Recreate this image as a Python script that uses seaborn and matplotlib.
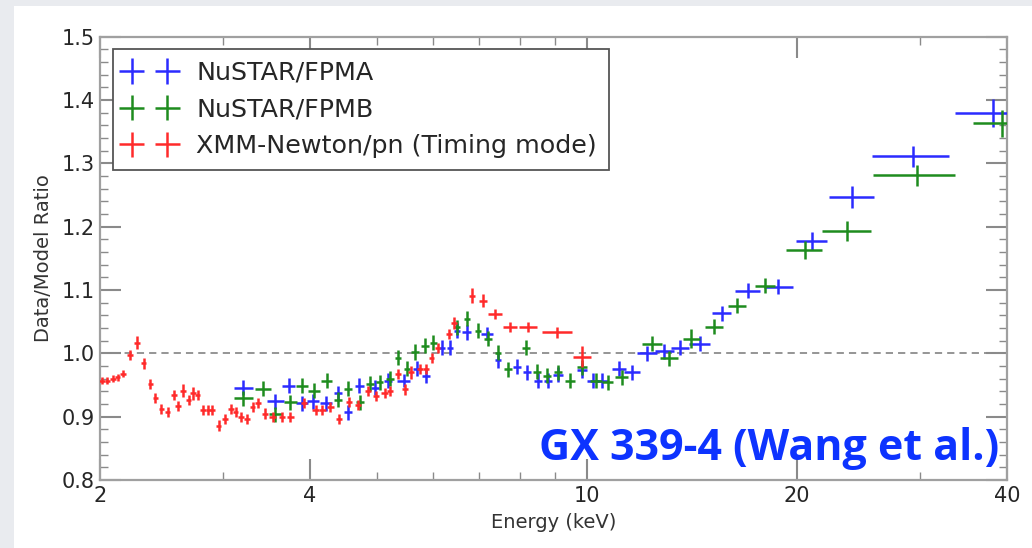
import numpy as np
import matplotlib
matplotlib.use("Agg")
import matplotlib.pyplot as plt
from matplotlib.patches import Rectangle
from matplotlib.ticker import FixedLocator, FixedFormatter, NullFormatter, MultipleLocator, FormatStrFormatter
import seaborn as sns

# ---------------- data ----------------
series_names = ["NuSTAR/FPMA", "NuSTAR/FPMB", "XMM-Newton/pn (Timing mode)"]

fpma_E = [3.21, 3.57, 3.73, 3.90, 4.04, 4.22, 4.39, 4.54, 4.71, 4.96,
          5.18, 5.45, 5.70, 5.87, 6.19, 6.36, 6.50, 6.72, 7.18, 7.45,
          7.93, 8.20, 8.50, 8.79, 9.08, 9.83, 10.2, 10.5, 11.1, 11.6,
          12.2, 12.9, 13.6, 14.5, 15.6, 17.0, 18.8, 21.0, 24.0, 29.3, 38.2]
fpma_R = [0.946, 0.924, 0.949, 0.921, 0.924, 0.921, 0.937, 0.907, 0.949, 0.946,
          0.957, 0.957, 0.976, 0.965, 1.009, 1.009, 1.036, 1.033, 1.031, 0.989,
          0.979, 0.970, 0.957, 0.957, 0.966, 0.973, 0.957, 0.957, 0.976, 0.970,
          1.000, 1.003, 1.009, 1.015, 1.063, 1.099, 1.105, 1.177, 1.247, 1.311, 1.380]
fpma_xerr = [0.10, 0.10, 0.08, 0.08, 0.08, 0.08, 0.06, 0.06, 0.07, 0.07,
             0.07, 0.12, 0.07, 0.07, 0.06, 0.06, 0.07, 0.10, 0.15, 0.07,
             0.10, 0.10, 0.12, 0.12, 0.15, 0.15, 0.20, 0.20, 0.25, 0.30,
             0.40, 0.40, 0.40, 0.50, 0.50, 0.70, 0.90, 1.10, 1.80, 3.70, 4.50]
fpma_yerr = [0.012, 0.012, 0.012, 0.012, 0.012, 0.012, 0.012, 0.012, 0.012, 0.012,
             0.012, 0.010, 0.012, 0.012, 0.012, 0.012, 0.012, 0.012, 0.010, 0.012,
             0.012, 0.012, 0.012, 0.012, 0.012, 0.012, 0.012, 0.012, 0.012, 0.012,
             0.012, 0.012, 0.012, 0.012, 0.012, 0.012, 0.012, 0.014, 0.017, 0.016, 0.022]

fpmb_E = [3.21, 3.43, 3.57, 3.75, 3.90, 4.06, 4.23, 4.39, 4.54, 4.72,
          4.88, 5.04, 5.21, 5.35, 5.51, 5.66, 5.85, 6.01, 6.50, 6.72,
          6.97, 7.21, 7.45, 7.70, 8.17, 8.47, 8.76, 9.08, 9.45, 9.83,
          10.3, 10.7, 11.2, 12.4, 13.1, 14.1, 15.2, 16.4, 18.0, 20.5,
          23.6, 29.7, 39.4]
fpmb_R = [0.929, 0.944, 0.904, 0.923, 0.949, 0.941, 0.957, 0.927, 0.944, 0.923,
          0.952, 0.954, 0.960, 0.993, 0.976, 1.002, 1.012, 1.017, 1.041, 1.055,
          1.036, 1.023, 1.001, 0.975, 1.009, 0.971, 0.965, 0.970, 0.957, 0.978,
          0.957, 0.954, 0.962, 1.015, 0.992, 1.023, 1.042, 1.075, 1.107, 1.163,
          1.193, 1.281, 1.363]
fpmb_xerr = [0.10, 0.09, 0.08, 0.08, 0.08, 0.08, 0.08, 0.06, 0.06, 0.06,
             0.06, 0.06, 0.07, 0.05, 0.06, 0.07, 0.07, 0.07, 0.07, 0.07,
             0.07, 0.10, 0.07, 0.10, 0.10, 0.12, 0.12, 0.12, 0.15, 0.15,
             0.20, 0.20, 0.25, 0.40, 0.40, 0.40, 0.45, 0.50, 0.60, 1.20,
             1.90, 4.00, 3.70]
fpmb_yerr = [0.012, 0.012, 0.012, 0.012, 0.012, 0.012, 0.012, 0.012, 0.012, 0.012,
             0.012, 0.012, 0.012, 0.012, 0.012, 0.012, 0.012, 0.012, 0.012, 0.012,
             0.012, 0.012, 0.012, 0.012, 0.012, 0.012, 0.012, 0.012, 0.012, 0.012,
             0.012, 0.012, 0.012, 0.012, 0.012, 0.015, 0.012, 0.012, 0.012, 0.014,
             0.016, 0.016, 0.021]

xmm_E = [2.01, 2.05, 2.09, 2.12, 2.16, 2.21, 2.26, 2.31, 2.36, 2.40,
         2.45, 2.50, 2.55, 2.59, 2.63, 2.68, 2.72, 2.76, 2.81, 2.86,
         2.90, 2.96, 3.02, 3.08, 3.13, 3.19, 3.25, 3.31, 3.37, 3.45,
         3.54, 3.65, 3.75, 3.92, 4.08, 4.17, 4.28, 4.41, 4.55, 4.69,
         4.85, 4.98, 5.12, 5.21, 5.35, 5.48, 5.59, 5.75, 5.87, 5.98,
         6.10, 6.33, 6.44, 6.84, 7.09, 7.37, 7.75, 8.23, 9.05, 9.83]
xmm_R = [0.957, 0.957, 0.960, 0.962, 0.968, 0.997, 1.017, 0.984, 0.951, 0.929,
         0.912, 0.907, 0.934, 0.917, 0.941, 0.926, 0.937, 0.934, 0.910, 0.910,
         0.910, 0.886, 0.897, 0.912, 0.907, 0.899, 0.897, 0.915, 0.921, 0.905,
         0.899, 0.899, 0.899, 0.921, 0.910, 0.910, 0.915, 0.896, 0.923, 0.918,
         0.940, 0.933, 0.937, 0.941, 0.968, 0.943, 0.970, 0.975, 0.975, 0.992,
         1.008, 1.031, 1.048, 1.091, 1.083, 1.062, 1.041, 1.041, 1.033, 0.995]
xmm_xerr = [0.02, 0.02, 0.02, 0.02, 0.02, 0.02, 0.02, 0.02, 0.02, 0.02,
            0.02, 0.02, 0.025, 0.025, 0.025, 0.025, 0.025, 0.025, 0.025, 0.025,
            0.025, 0.025, 0.03, 0.03, 0.03, 0.03, 0.03, 0.03, 0.03, 0.03,
            0.04, 0.04, 0.04, 0.04, 0.045, 0.045, 0.045, 0.045, 0.045, 0.045,
            0.045, 0.045, 0.055, 0.055, 0.055, 0.055, 0.055, 0.055, 0.055, 0.055,
            0.055, 0.06, 0.06, 0.07, 0.09, 0.17, 0.18, 0.25, 0.45, 0.30]
xmm_yerr = [0.006, 0.006, 0.006, 0.006, 0.006, 0.008, 0.010, 0.008, 0.008, 0.008,
            0.008, 0.008, 0.008, 0.008, 0.010, 0.008, 0.010, 0.008, 0.008, 0.008,
            0.008, 0.008, 0.008, 0.008, 0.008, 0.008, 0.008, 0.008, 0.008, 0.008,
            0.008, 0.008, 0.008, 0.008, 0.008, 0.008, 0.008, 0.008, 0.008, 0.008,
            0.008, 0.008, 0.008, 0.008, 0.008, 0.008, 0.010, 0.008, 0.008, 0.008,
            0.008, 0.008, 0.010, 0.012, 0.010, 0.008, 0.008, 0.008, 0.008, 0.016]

xtick_values = [2, 4, 10, 20, 40]
xtick_labels = ["2", "4", "10", "20", "40"]
xminor_values = [3, 5, 6, 7, 8, 9, 30]
annotation = "GX 339-4 (Wang et al.)"

# ---------------- style ----------------
sns.set_theme(style="white")
plt.rcParams['font.family'] = ['DejaVu Sans']

colors = ['#2b2bff', '#1e8c1e', '#ff2a2a']

fig = plt.figure(figsize=(10.32, 5.48), dpi=100)
fig.patch.set_facecolor('#e9ebef')
fig.patches.append(Rectangle((14 / 1032, 0), 1, 1 - 6 / 548, transform=fig.transFigure,
                             facecolor='white', edgecolor='none', zorder=-10))
ax = fig.add_axes([100 / 1032, 1 - 480 / 548, 907 / 1032, (480 - 36.7) / 548])
ax.set_facecolor('white')

ax.axhline(1.0, color='#8c8c8c', lw=1.3, ls=(0, (4, 2.8)), zorder=1)

datasets = [(fpma_E, fpma_R, fpma_xerr, fpma_yerr),
            (fpmb_E, fpmb_R, fpmb_xerr, fpmb_yerr),
            (xmm_E, xmm_R, xmm_xerr, xmm_yerr)]
for name, (E, R, xe, ye), c in zip(series_names, datasets, colors):
    ax.errorbar(E, R, xerr=xe, yerr=ye, fmt='none', ecolor=c, elinewidth=1.8,
                capsize=0, label=name, zorder=3)

ax.set_xscale('log')
ax.set_xlim(2, 40)
ax.set_ylim(0.8, 1.5)
ax.xaxis.set_major_locator(FixedLocator(xtick_values))
ax.xaxis.set_major_formatter(FixedFormatter(xtick_labels))
ax.xaxis.set_minor_locator(FixedLocator(xminor_values))
ax.xaxis.set_minor_formatter(NullFormatter())
ax.yaxis.set_major_locator(MultipleLocator(0.1))
ax.yaxis.set_major_formatter(FormatStrFormatter('%.1f'))
ax.yaxis.set_minor_locator(MultipleLocator(0.02))

ax.tick_params(which='both', direction='in', top=True, right=True, bottom=True, left=True,
               color='#8a8a8a', labelcolor='#262626')
ax.tick_params(which='major', length=15, width=1.5, labelsize=15, pad=4)
ax.tick_params(which='minor', length=6, width=1.0)

for s in ax.spines.values():
    s.set_color('#a0a0a0')
    s.set_linewidth(1.6)

ax.set_xlabel("Energy (keV)", fontsize=14, color='#333333', labelpad=5)
ax.set_ylabel("Data/Model Ratio", fontsize=14, color='#333333', labelpad=6)

leg = ax.legend(loc='upper left', numpoints=2, fontsize=18.3, frameon=True, fancybox=False,
                edgecolor='#555555', framealpha=1, borderaxespad=0.5, handlelength=2.0,
                handletextpad=0.84, labelspacing=0.5, borderpad=0.45)
leg.get_frame().set_linewidth(1.3)
for t in leg.get_texts():
    t.set_color('#262626')

ax.text(0.992, 0.045, annotation, transform=ax.transAxes, ha='right', va='baseline',
        fontsize=31, fontweight='bold', color='#0d33ff', family=['Open Sans', 'DejaVu Sans'],
        zorder=5)

fig.savefig("out.png", dpi=100, facecolor=fig.get_facecolor())
